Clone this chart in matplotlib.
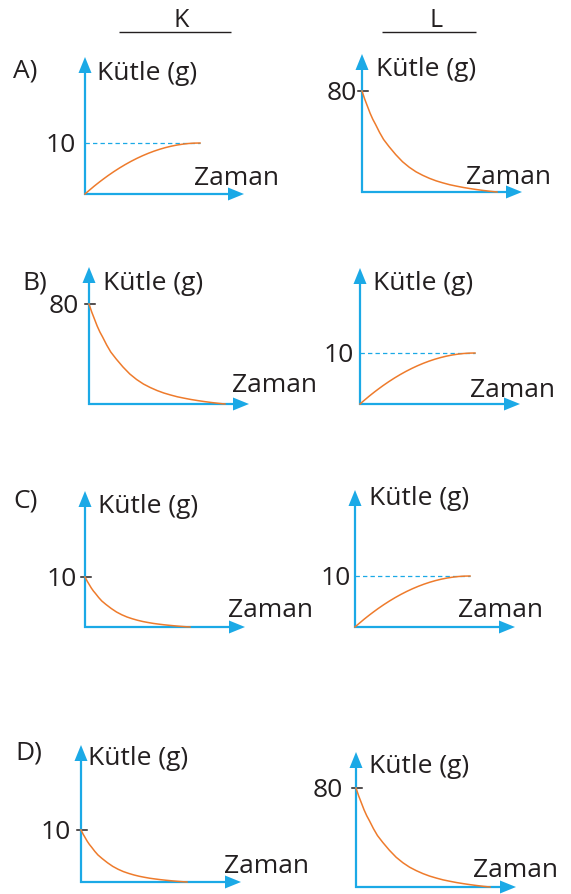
import matplotlib
matplotlib.use("Agg")
import matplotlib.pyplot as plt
from matplotlib.patches import Polygon

# ---------------- data ----------------
columns = ["K", "L"]
options = ["A)", "B)", "C)", "D)"]
y_label = "Kütle (g)"
x_label = "Zaman"

# curve shapes (fraction of time span, fraction of level)
time_frac = [0.0, 0.02, 0.04, 0.06, 0.08, 0.1, 0.13, 0.16, 0.2, 0.25, 0.3, 0.35, 0.4,
             0.45, 0.5, 0.55, 0.6, 0.65, 0.7, 0.75, 0.8, 0.85, 0.9, 0.95, 1.0]
decay_frac = [1.0, 0.92, 0.85, 0.78, 0.72, 0.67, 0.59, 0.52, 0.45, 0.37, 0.30, 0.245, 0.20,
              0.165, 0.135, 0.11, 0.09, 0.072, 0.058, 0.045, 0.034, 0.024, 0.015, 0.007, 0.0]
growth_frac = [0.0, 0.04, 0.078, 0.116, 0.154, 0.19, 0.243, 0.294, 0.36, 0.4375, 0.51, 0.5775,
               0.64, 0.6975, 0.75, 0.7975, 0.84, 0.8775, 0.91, 0.9375, 0.96, 0.9775, 0.99,
               0.9975, 1.0]

k_shapes = ["growth", "decay", "decay", "decay"]
k_levels = [10, 80, 10, 10]
l_shapes = ["decay", "growth", "growth", "decay"]
l_levels = [80, 10, 10, 80]

# ---------------- layout (pixels) ----------------
W, H = 571, 894
BLUE = "#1BA9E6"
ORANGE = "#EE7B2C"
DARK = "#231F20"
FONT = "Open Sans"
FS = 19

k_layout = [
    dict(ox=85, oy=194, xt=244, yt=57, xe=200, yl=143, kl=(97, 80), zl=(194, 185), vr=76),
    dict(ox=89, oy=404, xt=249, yt=267, xe=225, yl=304, kl=(103, 290), zl=(232, 392), vr=79),
    dict(ox=85, oy=627, xt=245, yt=491, xe=190, yl=577, kl=(98, 513), zl=(228, 617), vr=77),
    dict(ox=81, oy=882, xt=241, yt=745, xe=187, yl=830, kl=(88, 765), zl=(224, 873), vr=71),
]
l_layout = [
    dict(ox=362, oy=192, xt=522, yt=54, xe=497, yl=91, kl=(376, 76), zl=(466, 184), vr=357),
    dict(ox=360, oy=404, xt=520, yt=268, xe=475, yl=353, kl=(373, 290), zl=(470, 397), vr=354),
    dict(ox=355, oy=627, xt=515, yt=490, xe=470, yl=576, kl=(369, 505), zl=(458, 617), vr=351),
    dict(ox=356, oy=887, xt=516, yt=752, xe=490, yl=788, kl=(369, 773), zl=(473, 877), vr=343),
]
option_pos = [(13, 77), (22, 290), (13, 507), (15, 759)]

fig = plt.figure(figsize=(W / 100, H / 100), dpi=100)
bg = fig.add_axes([0, 0, 1, 1])
bg.set_xlim(0, W)
bg.set_ylim(H, 0)
bg.axis("off")

# column headers
for name, (x0, x1), cx in zip(columns, [(119, 231), (382, 476)], [181, 436]):
    bg.plot([x0, x1], [32, 32], color=DARK, lw=1.0, solid_capstyle="butt")
    bg.text(cx, 27, name, ha="center", va="baseline",
            fontsize=18, family=FONT, color=DARK)

for name, (x, y) in zip(options, option_pos):
    bg.text(x, y, name, ha="left", va="baseline", fontsize=FS, family=FONT, color=DARK)


def panel(L, shape, level):
    ox, oy, xt, yt, xe, yl = L["ox"], L["oy"], L["xt"], L["yt"], L["xe"], L["yl"]
    ax = fig.add_axes([ox / W, 1 - oy / H, (xt - ox) / W, (oy - yt) / H])
    ax.axis("off")
    xmax = (xt - ox) / (xe - ox)
    ymax = level * (oy - yt) / (oy - yl)
    ax.set_xlim(0, xmax)
    ax.set_ylim(0, ymax)
    frac = decay_frac if shape == "decay" else growth_frac
    mass = [level * f for f in frac]
    ax.plot(time_frac, mass, color=ORANGE, lw=1.1, clip_on=False, zorder=3,
            solid_joinstyle="round")
    if shape == "growth":
        ax.plot([0, 1], [level, level], color=BLUE, lw=0.9, ls=(0, (3.5, 2.5)),
                clip_on=False, zorder=2)
    else:
        bg.plot([ox - 4, ox + 6], [yl, yl], color=DARK, lw=1.1, zorder=4)
    ah, hw = 16, 6.5
    bg.plot([ox, ox], [oy + 1, yt + ah - 1], color=BLUE, lw=1.6, solid_capstyle="butt", zorder=4)
    bg.plot([ox - 1, xt - ah + 1], [oy, oy], color=BLUE, lw=1.6, solid_capstyle="butt", zorder=4)
    bg.add_patch(Polygon([[ox - hw, yt + ah], [ox + hw, yt + ah], [ox, yt]],
                         closed=True, color=BLUE, lw=0, zorder=4))
    bg.add_patch(Polygon([[xt - ah, oy - hw], [xt - ah, oy + hw], [xt, oy]],
                         closed=True, color=BLUE, lw=0, zorder=4))
    bg.text(L["kl"][0], L["kl"][1], y_label, ha="left", va="baseline",
            fontsize=FS, family=FONT, color=DARK)
    bg.text(L["zl"][0], L["zl"][1], x_label, ha="left", va="baseline",
            fontsize=FS, family=FONT, color=DARK)
    bg.text(L["vr"], yl + 9, str(level), ha="right", va="baseline",
            fontsize=FS, family=FONT, color=DARK)


for L, s, v in zip(k_layout, k_shapes, k_levels):
    panel(L, s, v)
for L, s, v in zip(l_layout, l_shapes, l_levels):
    panel(L, s, v)

fig.savefig("out.png", dpi=100, facecolor="white")
